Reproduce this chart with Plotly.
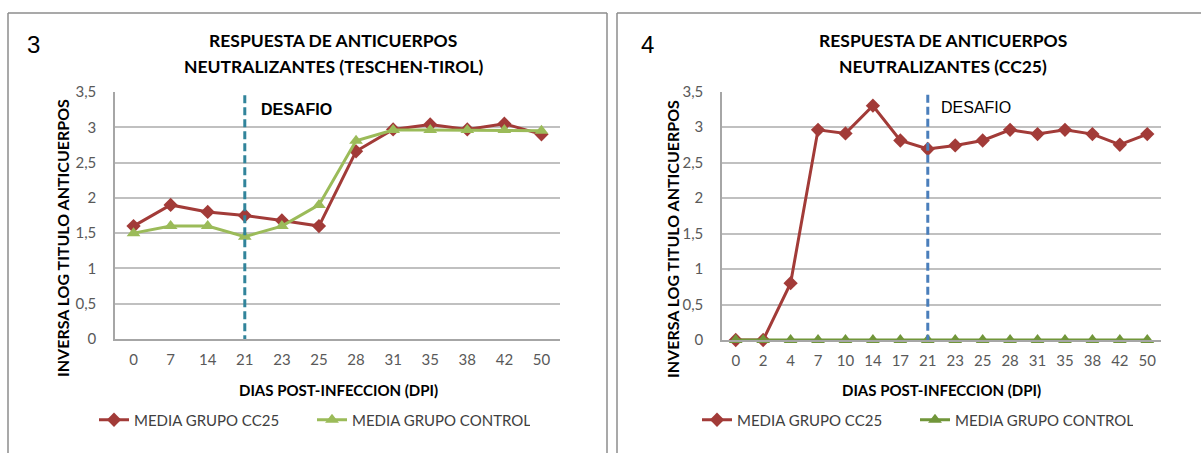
import plotly.graph_objects as go

# ---- data ----
dias_a = ["0", "7", "14", "21", "23", "25", "28", "31", "35", "38", "42", "50"]
cc25_a = [1.6, 1.9, 1.8, 1.75, 1.68, 1.6, 2.66, 2.97, 3.04, 2.97, 3.05, 2.9]
control_a = [1.5, 1.6, 1.6, 1.45, 1.6, 1.9, 2.81, 2.96, 2.96, 2.96, 2.96, 2.95]

dias_b = ["0", "2", "4", "7", "10", "14", "17", "21", "23", "25", "28", "31", "35", "38", "42", "50"]
cc25_b = [0, 0, 0.8, 2.96, 2.91, 3.3, 2.81, 2.69, 2.74, 2.81, 2.96, 2.9, 2.96, 2.9, 2.75, 2.9]
control_b = [0] * 16

desafio_dia = "21"
y_ticks = [0, 0.5, 1, 1.5, 2, 2.5, 3, 3.5]

W, H = 1201, 453
FONT = "Lato"
RED = "#A23B38"
GREEN_A = "#9BBB59"
GREEN_B = "#71963A"


def px(x):
    return x / W


def py(y):
    return 1 - y / H


fig = go.Figure()


def series(x, y, name, color, symbol, size, xa, ya, leg):
    fig.add_trace(go.Scatter(x=x, y=y, name=name, mode="lines+markers", cliponaxis=False,
                             line=dict(color=color, width=3),
                             marker=dict(symbol=symbol, size=size, color=color),
                             xaxis=xa, yaxis=ya, legend=leg))


# panel 3 series
series(dias_a, cc25_a, "MEDIA GRUPO CC25", RED, "diamond", 11, "x", "y", "legend")
series(dias_a, control_a, "MEDIA GRUPO CONTROL", GREEN_A, "triangle-up", 12, "x", "y", "legend")
# panel 4 series
series(dias_b, cc25_b, "MEDIA GRUPO CC25", RED, "diamond", 11, "x2", "y2", "legend2")
series(dias_b, control_b, "MEDIA GRUPO CONTROL", GREEN_B, "triangle-up", 12, "x2", "y2", "legend2")

tick_font = dict(family=FONT, size=15, color="#595959")
grid = "#C0C0C0"


def xaxis_cfg(cats, x0, x1, anchor):
    return dict(type="category", categoryorder="array", categoryarray=cats,
                range=[-0.5, len(cats) - 0.5], domain=[px(x0), px(x1)], anchor=anchor,
                showgrid=False, showline=True, linecolor="#A6A6A6", linewidth=1.5,
                ticks="", ticklabelstandoff=6, tickfont=tick_font, automargin=False, fixedrange=True)


def yaxis_cfg(y0, y1, anchor):
    return dict(range=[0, 3.5], tickvals=y_ticks, domain=[py(y0), py(y1)], anchor=anchor,
                showgrid=True, gridcolor=grid, gridwidth=1.5, zeroline=False,
                showline=True, linecolor="#A6A6A6", linewidth=1.5,
                ticks="", ticklabelstandoff=14, tickfont=tick_font, automargin=False)


legend_font = dict(family=FONT, size=15, color="#404040")

fig.update_layout(
    width=W, height=H, margin=dict(l=0, r=0, t=0, b=0, pad=0, autoexpand=False),
    paper_bgcolor="white", plot_bgcolor="white",
    separators=",.",
    xaxis=xaxis_cfg(dias_a, 115, 560, "y"),
    yaxis=yaxis_cfg(339, 92, "x"),
    xaxis2=xaxis_cfg(dias_b, 722, 1161, "y2"),
    yaxis2=yaxis_cfg(340, 91.5, "x2"),
    legend=dict(orientation="h", x=px(94), y=py(420), xanchor="left", yanchor="middle",
                entrywidth=173, entrywidthmode="pixels", bgcolor="rgba(0,0,0,0)", font=legend_font),
    legend2=dict(orientation="h", x=px(697), y=py(420), xanchor="left", yanchor="middle",
                 entrywidth=173, entrywidthmode="pixels", bgcolor="rgba(0,0,0,0)", font=legend_font),
    showlegend=True,
)

shapes = []
frame = dict(color="#8C8C8C", width=1.5)


def frame_line(x0, y0, x1, y1):
    shapes.append(dict(type="line", xref="paper", yref="paper", x0=px(x0), x1=px(x1),
                       y0=py(y0), y1=py(y1), line=frame, layer="below"))


# panel frames (open at the bottom / right page edge)
frame_line(8, 13, 607, 13)
frame_line(8, 13, 8, H)
frame_line(607, 13, 607, H)
frame_line(617, 13, W, 13)
frame_line(617, 13, 617, H)

# challenge day markers
shapes.append(dict(type="line", xref="x", yref="y", x0=dias_a.index(desafio_dia), x1=dias_a.index(desafio_dia),
                   y0=-0.06, y1=3.57, line=dict(color="#31849B", width=3, dash="8px,4px")))
shapes.append(dict(type="line", xref="x2", yref="y2", x0=dias_b.index(desafio_dia), x1=dias_b.index(desafio_dia),
                   y0=-0.04, y1=3.57, line=dict(color="#4A7EBB", width=3, dash="8px,4px")))
fig.update_layout(shapes=shapes)

ann = []


def label(text, x, y, size, bold=False, color="#000000", family=FONT, angle=0, xanchor="center"):
    ann.append(dict(text=f"<b>{text}</b>" if bold else text, x=px(x), y=py(y), xref="paper", yref="paper",
                    showarrow=False, xanchor=xanchor, yanchor="middle", textangle=angle,
                    font=dict(family=family, size=size, color=color)))


# panel numbers
label("3", 33, 44, 24, family="Liberation Sans")
label("4", 647, 44, 24, family="Liberation Sans")
# titles
label("RESPUESTA DE ANTICUERPOS", 333, 40, 17.5, bold=True)
label("NEUTRALIZANTES (TESCHEN-TIROL)", 333, 67, 17.5, bold=True)
label("RESPUESTA DE ANTICUERPOS", 943, 40, 17.5, bold=True)
label("NEUTRALIZANTES (CC25)", 943, 67, 17.5, bold=True)
# axis titles
label("DIAS POST-INFECCION (DPI)", 338, 390, 15, bold=True)
label("DIAS POST-INFECCION (DPI)", 941, 390, 15, bold=True)
label("INVERSA LOG TITULO ANTICUERPOS", 62, 238, 16, bold=True, angle=-90)
label("INVERSA LOG TITULO ANTICUERPOS", 672, 239, 16, bold=True, angle=-90)
# challenge labels
label("DESAFIO", 259, 109, 16, bold=True, family="Liberation Sans", xanchor="left")
label("DESAFIO", 939, 107, 16, bold=False, family="Liberation Sans", xanchor="left")

fig.update_layout(annotations=ann)

fig.write_html("out.html")
